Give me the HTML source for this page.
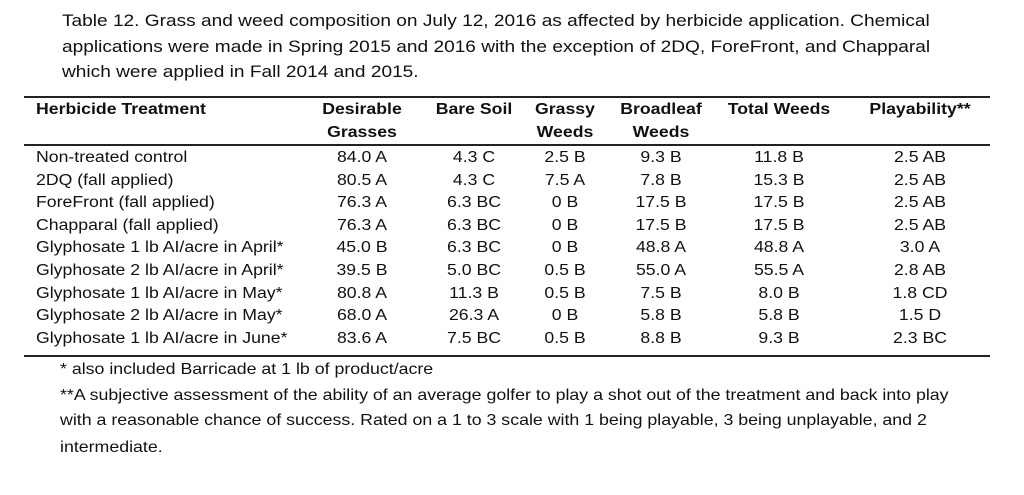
<!DOCTYPE html>
<html><head><meta charset="utf-8"><style>
body{margin:0;background:#fff;width:1024px;height:495px;overflow:hidden;position:relative;font-family:"Liberation Sans",sans-serif;color:#111}
.t{position:absolute;white-space:nowrap;font-size:17px;line-height:20px;transform:scaleX(1.123);transform-origin:0 0}
.f{position:absolute;white-space:nowrap;font-size:16px;line-height:18px;transform:scaleX(1.11);transform-origin:0 0}
.l{position:absolute;left:24px;width:966px;height:1.5px;background:#222}
.r{position:absolute;white-space:nowrap;font-size:15.5px;line-height:18px;transform:scaleX(1.14);transform-origin:0 0}
.c{transform:translateX(-50%) scaleX(1.14);transform-origin:50% 0}
.b{font-weight:bold}
</style></head><body>
<div class="t" style="left:62px;top:11px">Table 12. Grass and weed composition on July 12, 2016 as affected by herbicide application. Chemical</div>
<div class="t" style="left:62px;top:37px">applications were made in Spring 2015 and 2016 with the exception of 2DQ, ForeFront, and Chapparal</div>
<div class="t" style="left:62px;top:62px">which were applied in Fall 2014 and 2015.</div>
<div class="l" style="top:96px"></div>
<div class="l" style="top:144px"></div>
<div class="l" style="top:355px"></div>
<div class="r b" style="left:36px;top:101px">Herbicide Treatment</div>
<div class="r b c" style="left:362px;top:101px">Desirable</div>
<div class="r b c" style="left:362px;top:124px">Grasses</div>
<div class="r b c" style="left:474px;top:101px">Bare Soil</div>
<div class="r b c" style="left:565px;top:101px">Grassy</div>
<div class="r b c" style="left:565px;top:124px">Weeds</div>
<div class="r b c" style="left:661px;top:101px">Broadleaf</div>
<div class="r b c" style="left:661px;top:124px">Weeds</div>
<div class="r b c" style="left:779px;top:101px">Total Weeds</div>
<div class="r b c" style="left:920px;top:101px">Playability**</div>
<div id="rows"></div>
<script>
var d=[["Non-treated control","84.0 A","4.3 C","2.5 B","9.3 B","11.8 B","2.5 AB"],
["2DQ (fall applied)","80.5 A","4.3 C","7.5 A","7.8 B","15.3 B","2.5 AB"],
["ForeFront (fall applied)","76.3 A","6.3 BC","0 B","17.5 B","17.5 B","2.5 AB"],
["Chapparal (fall applied)","76.3 A","6.3 BC","0 B","17.5 B","17.5 B","2.5 AB"],
["Glyphosate 1 lb AI/acre in April*","45.0 B","6.3 BC","0 B","48.8 A","48.8 A","3.0 A"],
["Glyphosate 2 lb AI/acre in April*","39.5 B","5.0 BC","0.5 B","55.0 A","55.5 A","2.8 AB"],
["Glyphosate 1 lb AI/acre in May*","80.8 A","11.3 B","0.5 B","7.5 B","8.0 B","1.8 CD"],
["Glyphosate 2 lb AI/acre in May*","68.0 A","26.3 A","0 B","5.8 B","5.8 B","1.5 D"],
["Glyphosate 1 lb AI/acre in June*","83.6 A","7.5 BC","0.5 B","8.8 B","9.3 B","2.3 BC"]];
var xs=[362,474,565,661,779,920],h="";
d.forEach(function(r,i){var y=149+i*22.6;
h+='<div class="r" style="left:36px;top:'+y+'px">'+r[0]+'</div>';
for(var j=1;j<7;j++)h+='<div class="r c" style="left:'+xs[j-1]+'px;top:'+y+'px">'+r[j]+'</div>';});
document.getElementById("rows").innerHTML=h;
</script>
<div class="f" style="left:60px;top:361px">* also included Barricade at 1 lb of product/acre</div>
<div class="f" style="left:60px;top:387px">**A subjective assessment of the ability of an average golfer to play a shot out of the treatment and back into play</div>
<div class="f" style="left:60px;top:412px">with a reasonable chance of success. Rated on a 1 to 3 scale with 1 being playable, 3 being unplayable, and 2</div>
<div class="f" style="left:60px;top:439px">intermediate.</div>
</body></html>
